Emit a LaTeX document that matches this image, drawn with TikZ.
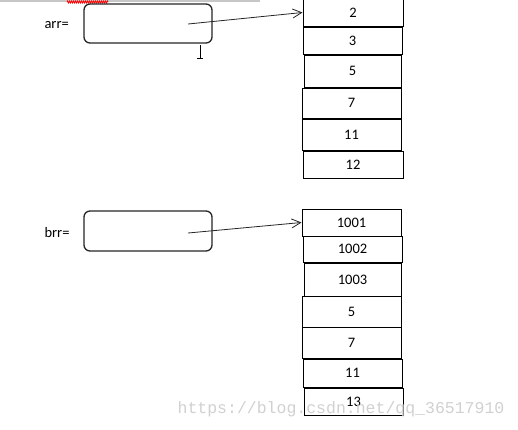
\documentclass[tikz,border=0pt]{standalone}
\usepackage{fontspec}
\setmainfont{Carlito}
\newfontfamily\wmfont{Liberation Mono}
\usetikzlibrary{arrows.meta,decorations.pathmorphing}
\begin{document}
\begin{tikzpicture}[x=1pt,y=-1pt,
  cell/.style={draw=black,line width=1pt,font=\fontsize{14.5}{16}\selectfont},
  ptrbox/.style={draw=black!85,line width=1.3pt,rounded corners=6pt},
  lbl/.style={font=\fontsize{14.5}{16}\selectfont},
  ptr/.style={draw=black!85,line width=0.8pt,-{Straight Barb[length=9pt,width=9pt,line width=0.8pt]}}]
\useasboundingbox[fill=white] (0,0) rectangle (518,429);
% screen artifacts at top
\fill[black!22] (0,0) rectangle (260,2);
\draw[red,line width=0.8pt,decorate,decoration={zigzag,segment length=2pt,amplitude=1pt}] (67,2) -- (108,2);
\draw[line width=0.8pt] (200,45) -- (200,58) (197,58) -- (203,58);
% arr
\node[lbl,anchor=west] (la) at (41,25) {arr=};
\draw[ptrbox] (84,4) rectangle (212,43);
\coordinate (pa) at (188,24);
\node[cell,minimum width=100pt,minimum height=27pt,inner sep=0pt] (a1) at (353,12.5) {2};
\node[cell,minimum width=99pt,minimum height=27pt,inner sep=0pt] (a2) at (352.5,40.5) {3};
\node[cell,minimum width=97pt,minimum height=32pt,inner sep=0pt] (a3) at (352.5,71) {5};
\node[cell,minimum width=99pt,minimum height=30pt,inner sep=0pt] (a4) at (351.5,103) {7};
\node[cell,minimum width=99pt,minimum height=31pt,inner sep=0pt] (a5) at (351.5,134.5) {11};
\node[cell,minimum width=100pt,minimum height=27pt,inner sep=0pt] (a6) at (353,165) {12};
\draw[ptr] (pa) -- (a1.west);
% brr
\node[lbl,anchor=west] (lb) at (41,233) {brr=};
\draw[ptrbox] (84,211) rectangle (212,251);
\coordinate (pb) at (188,233);
\node[cell,minimum width=99pt,minimum height=27pt,inner sep=0pt] (b1) at (351.5,222.5) {1001};
\node[cell,minimum width=99pt,minimum height=26pt,inner sep=0pt] (b2) at (352.5,249) {1002};
\node[cell,minimum width=97pt,minimum height=33pt,inner sep=0pt] (b3) at (352.5,279.5) {1003};
\node[cell,minimum width=99pt,minimum height=31pt,inner sep=0pt] (b4) at (351.5,311.5) {5};
\node[cell,minimum width=99pt,minimum height=31pt,inner sep=0pt] (b5) at (351.5,342.5) {7};
\node[cell,minimum width=99pt,minimum height=28pt,inner sep=0pt] (b6) at (352.5,373) {11};
\node[cell,minimum width=99pt,minimum height=27pt,inner sep=0pt] (b7) at (353.5,401.5) {13};
\draw[ptr] (pb) -- (b1.west);
% watermark
\node[text=black!18,font=\wmfont\fontsize{16.5}{18}\selectfont,inner sep=0pt] (wm) at (341,409) {https://blog.csdn.net/qq\_36517910};
\end{tikzpicture}
\end{document}
